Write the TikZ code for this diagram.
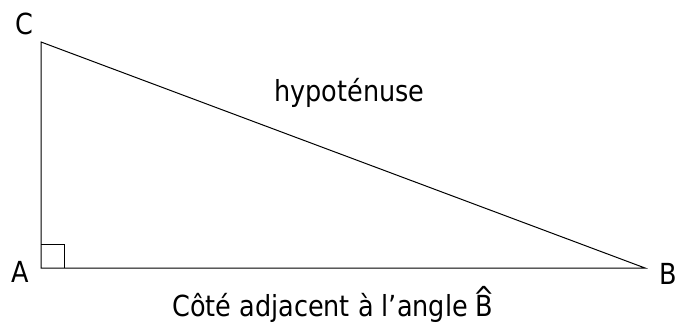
\documentclass[tikz,border=0pt]{standalone}
\usepackage{fontspec}
\setmainfont{DejaVu Sans}[FakeStretch=0.88]
\usepackage{tikz}
\usetikzlibrary{positioning, calc}
\newcommand{\hatB}{\leavevmode\rlap{\makebox[\fontcharwd\font`B]{\raisebox{9pt}{\^{}}}}B}
\tikzset{
    side_line/.style={
        draw=black, line width=1pt, line join=miter
    },
    pt_lbl/.style={
        font=\fontsize{29}{33}\selectfont, text=black, inner sep=0pt
    },
    side_lbl/.style={
        font=\fontsize{29}{33}\selectfont, text=black, inner sep=0pt, anchor=base west
    }
}
\begin{document}
\begin{tikzpicture}[x=1pt, y=1pt]
    \useasboundingbox (0,0) rectangle (685,324);

    % Vertices
    \coordinate (A) at (41, 56);
    \coordinate (B) at (645, 56);
    \coordinate (C) at (41, 282);

    % Triangle and right angle
    \draw[side_line] (A) -- (B) -- (C) -- cycle;
    \draw[side_line] ($(A)+(0,23)$) -- ($(A)+(23,23)$) -- ($(A)+(23,0)$);

    % Vertex labels
    \node[pt_lbl] (lblC) at (24, 300) {C};
    \node[pt_lbl] (lblA) at (20, 52) {A};
    \node[pt_lbl] (lblB) at (668, 50) {B};

    % Side labels
    \node[side_lbl] (hyp) at (274, 222) {hypoténuse};
    \node[side_lbl] (adj) at (172, 8) {Côté adjacent à l’angle \hatB};
\end{tikzpicture}
\end{document}
